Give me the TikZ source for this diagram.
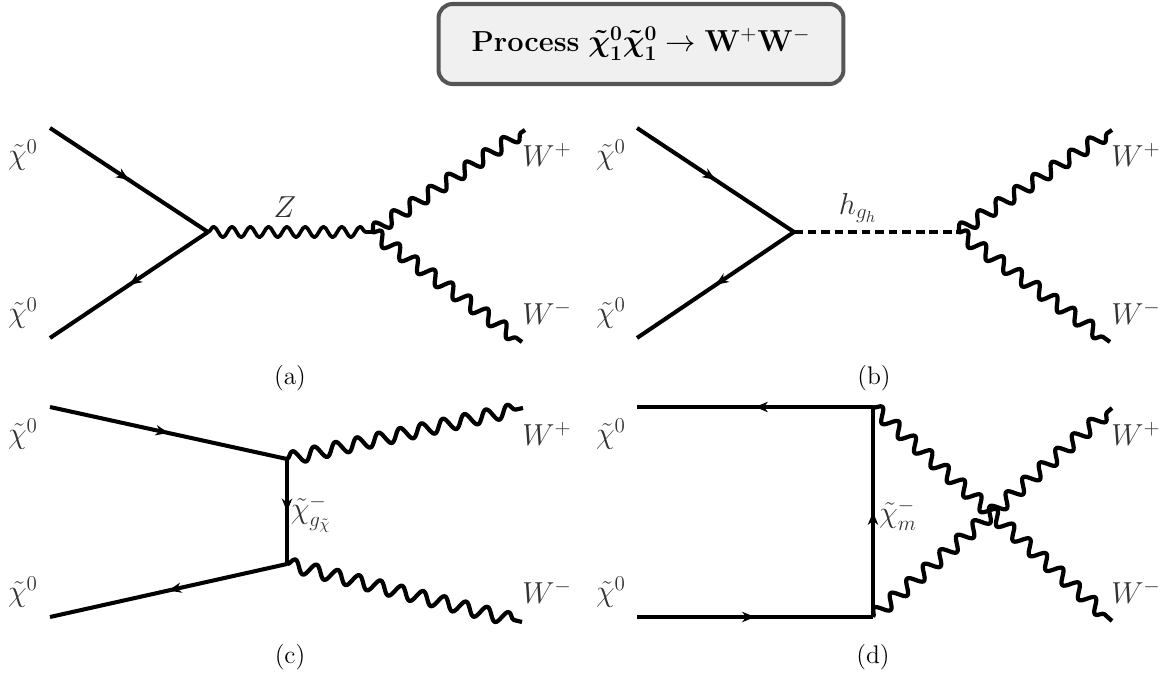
\documentclass[tikz,border=0pt]{standalone}
\usepackage{amsmath,amssymb}
\usepackage{xcolor}
\usetikzlibrary{arrows.meta,decorations.pathmorphing,decorations.markings}
\definecolor{BoxF}{HTML}{F0F0F0}
\definecolor{BoxD}{HTML}{555555}
\definecolor{Lab}{HTML}{333333}

\begin{document}
\begin{tikzpicture}[x=0.02cm,y=-0.02cm,
    fermion/.style={line width=2.3pt,postaction={decorate},
      decoration={markings,mark=at position 0.5 with {\arrow[line width=0.6pt]{Stealth[length=2.6mm,width=2.1mm]}}}},
    boson/.style={line width=2.4pt,decorate,line join=round,
      decoration={snake,amplitude=0.13cm,segment length=0.44cm}},
    zboson/.style={line width=2.1pt,decorate,line join=round,
      decoration={snake,amplitude=0.105cm,segment length=0.366cm}},
    scalar/.style={line width=2.1pt,dash pattern=on 5pt off 2.7pt},
    lab/.style={text=Lab,font=\fontsize{18}{20}\selectfont,inner sep=0pt},
    sub/.style={font=\fontsize{14.5}{16}\selectfont,inner sep=0pt},
    titlebox/.style={draw=BoxD,fill=BoxF,rounded corners=8pt,line width=2.3pt,
      minimum width=8.1cm,minimum height=1.6cm,font=\fontsize{16.5}{18}\selectfont}]
  \useasboundingbox (0,0) rectangle (1160,675);
  \node[titlebox] (Title) at (641,44) {\textbf{Process} $\boldsymbol{\tilde{\chi}_1^0\tilde{\chi}_1^0}\rightarrow\mathbf{W}^+\mathbf{W}^-$};
  % (a)
  \coordinate (Ai) at (50,128);
  \coordinate (Aj) at (50,338);
  \coordinate (Av) at (208,232);
  \coordinate (Aw) at (372,232);
  \coordinate (Ap) at (525,130);
  \coordinate (Am) at (522,342);
  \draw[fermion] (Ai) -- (Av);
  \draw[fermion] (Av) -- (Aj);
  \draw[zboson] (Av) -- (Aw);
  \draw[boson] (Aw) -- (Ap);
  \draw[boson] (Aw) -- (Am);
  \node[lab] (AiL) at (23,155) {$\tilde{\chi}^0$};
  \node[lab] (AjL) at (23,313) {$\tilde{\chi}^0$};
  \node[lab] (ApL) at (547,155) {$W^+$};
  \node[lab] (AmL) at (547,313) {$W^-$};
  \node[lab] (AZ) at (285,207) {$Z$};
  \node[sub] (Acap) at (290,378) {(a)};
  % (b)
  \coordinate (Bi) at (637,128);
  \coordinate (Bj) at (637,338);
  \coordinate (Bv) at (794,232);
  \coordinate (Bw) at (958,232);
  \coordinate (Bp) at (1112,130);
  \coordinate (Bm) at (1110,342);
  \draw[fermion] (Bi) -- (Bv);
  \draw[fermion] (Bv) -- (Bj);
  \draw[scalar] (Bv) -- (Bw);
  \draw[boson] (Bw) -- (Bp);
  \draw[boson] (Bw) -- (Bm);
  \node[lab] (BiL) at (611,155) {$\tilde{\chi}^0$};
  \node[lab] (BjL) at (611,313) {$\tilde{\chi}^0$};
  \node[lab] (BpL) at (1136,155) {$W^+$};
  \node[lab] (BmL) at (1136,313) {$W^-$};
  \node[lab] (Bh) at (858,208) {$h_{g_h}$};
  \node[sub] (Bcap) at (874,378) {(b)};
  % (c)
  \coordinate (Ci) at (50,407);
  \coordinate (Cj) at (50,617);
  \coordinate (Cu) at (287,459);
  \coordinate (Cd) at (287,564);
  \coordinate (Cp) at (523,408);
  \coordinate (Cm) at (522,622);
  \draw[fermion] (Ci) -- (Cu);
  \draw[fermion] (Cd) -- (Cj);
  \draw[fermion] (Cu) -- (Cd);
  \draw[boson] (Cu) -- (Cp);
  \draw[boson] (Cd) -- (Cm);
  \node[lab] (CiL) at (23,434) {$\tilde{\chi}^0$};
  \node[lab] (CjL) at (23,592) {$\tilde{\chi}^0$};
  \node[lab] (CpL) at (547,434) {$W^+$};
  \node[lab] (CmL) at (547,592) {$W^-$};
  \node[lab] (Cx) at (311,514) {$\tilde{\chi}^-_{g_{\tilde{\chi}}}$};
  \node[sub] (Ccap) at (290,657) {(c)};
  % (d)
  \coordinate (Di) at (637,407);
  \coordinate (Dj) at (637,617);
  \coordinate (Du) at (873,407);
  \coordinate (Dd) at (873,617);
  \coordinate (Dp) at (1112,408);
  \coordinate (Dm) at (1112,621);
  \draw[fermion] (Du) -- (Di);
  \draw[fermion] (Dj) -- (Dd);
  \draw[fermion] (Dd) -- (Du);
  \draw[boson] (Du) -- (Dm);
  \draw[boson] (Dd) -- (Dp);
  \node[lab] (DiL) at (611,434) {$\tilde{\chi}^0$};
  \node[lab] (DjL) at (611,592) {$\tilde{\chi}^0$};
  \node[lab] (DpL) at (1136,434) {$W^+$};
  \node[lab] (DmL) at (1136,592) {$W^-$};
  \node[lab] (Dx) at (898,515) {$\tilde{\chi}^-_{m}$};
  \node[sub] (Dcap) at (873,657) {(d)};
\end{tikzpicture}
\end{document}
